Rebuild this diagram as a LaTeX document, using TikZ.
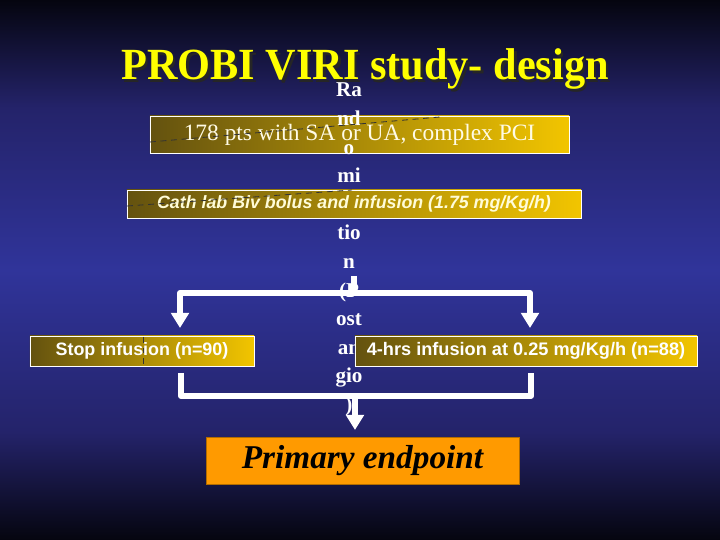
\documentclass[tikz,border=0pt]{standalone}
\usepackage{fontspec}
\setmainfont{Liberation Serif}
\setsansfont{Liberation Sans}
\newfontfamily\titlefont[FakeStretch=0.95]{Liberation Serif}
\usetikzlibrary{arrows.meta}
\definecolor{bgmid}{HTML}{30349A}
\definecolor{bgquart}{HTML}{24236A}
\definecolor{bgedge}{HTML}{05050F}
\definecolor{goldL}{HTML}{64520F}
\definecolor{goldR}{HTML}{F2C500}
\definecolor{ttlyellow}{HTML}{FFFF00}
\definecolor{cream}{HTML}{FFFBE6}
\definecolor{paleyellow}{HTML}{FFFCD8}
\definecolor{orangebox}{HTML}{FF9A00}
\pgfdeclareverticalshading{bgshade}{100bp}{color(0bp)=(bgedge); color(25bp)=(bgedge); color(35bp)=(bgquart); color(50bp)=(bgmid); color(65bp)=(bgquart); color(75bp)=(bgedge); color(100bp)=(bgedge)}
\begin{document}
\begin{tikzpicture}[x=0.03cm,y=-0.03cm,
  goldbox/.style={draw=white, line width=0.8pt, left color=goldL, right color=goldR,
    inner sep=0pt, align=center},
  titlestyle/.style={font=\titlefont\bfseries\fontsize{38}{40}\selectfont, anchor=base, inner sep=0pt},
  vtext/.style={font=\bfseries\fontsize{18}{20}\selectfont, text=white, anchor=base, inner sep=0pt},
  flow/.style={draw=white, line width=5pt, line join=round},
  flowarrow/.style={flow, -{Triangle[width=15pt,length=13pt]}},
  artdash/.style={draw=black!80, line width=0.7pt, dash pattern=on 5pt off 4pt}]
\useasboundingbox (0,0) rectangle (720,540);
\begin{scope}[y=0.03cm]
  \shade[shading=bgshade] (0,-540) rectangle (720,0);
\end{scope}

% title
\node[titlestyle, text=black!85] (titleshadow) at (367.5,82.5) {PROBI VIRI study- design};
\node[titlestyle, text=ttlyellow] (title) at (365,80) {PROBI VIRI study- design};

% first box
\node[goldbox, minimum width=12.57cm, minimum height=1.11cm,
      font=\fontsize{20}{22}\selectfont, text=cream] (pts) at (359.5,134.5)
      {178 pts with SA or UA, complex PCI};

% vertical label
\node[vtext] (v1) at (349,97) {Ra};
\node[vtext] (v2) at (349,125.6) {nd};
\node[vtext] (v3) at (349,154.2) {o};
\node[vtext] (v4) at (349,182.8) {mi};
\node[vtext] (v5) at (349,211.4) {za};
\node[vtext] (v6) at (349,240) {tio};
\node[vtext] (v7) at (349,268.6) {n};
\node[vtext] (v8) at (349,297.2) {(P};
\node[vtext] (v9) at (349,325.8) {ost};
\node[vtext] (v10) at (349,354.4) {an};
\node[vtext] (v11) at (349,383) {gio};
\node[vtext] (v12) at (349,411.6) {)};

% second box
\node[goldbox, minimum width=13.62cm, minimum height=0.84cm,
      font=\sffamily\bfseries\itshape\fontsize{15.2}{17}\selectfont, text=paleyellow] (cath) at (354,204)
      {Cath lab Biv bolus and infusion (1.75 mg/Kg/h)};

% arms
\node[goldbox, minimum width=6.72cm, minimum height=0.9cm,
      font=\sffamily\bfseries\fontsize{15.3}{17}\selectfont, text=white] (stop) at (142,351)
      {Stop infusion (n=90)};
\node[goldbox, minimum width=10.26cm, minimum height=0.9cm,
      font=\sffamily\bfseries\fontsize{15.5}{17}\selectfont, text=white] (four) at (526,351)
      {4-hrs infusion at 0.25 mg/Kg/h (n=88)};

% endpoint
\node[fill=orangebox, draw=orangebox!70!black, line width=0.4pt, minimum width=9.39cm, minimum height=1.41cm,
      inner sep=0pt, font=\bfseries\itshape\fontsize{28.4}{30}\selectfont, text=black] (end) at (362.5,460.5)
      {Primary endpoint};

% artefact dashes
\draw[artdash] (150,142) -- (440,117);
\draw[artdash] (127,206) -- (352,190);
\draw[artdash] (143,337) -- (143,365);

% connectors
\coordinate (stub) at (354,276);
\coordinate (split) at (354,293);
\coordinate (ltip) at (180,328);
\coordinate (rtip) at (530,328);
\draw[flow] (stub) -- (split);
\draw[flowarrow] (split) -| (ltip);
\draw[flowarrow] (split) -| (rtip);

\coordinate (lfoot) at (181,373);
\coordinate (rfoot) at (531,373);
\coordinate (join) at (355,396);
\coordinate (etip) at (355,430);
\draw[flow] (lfoot) |- (join) -| (rfoot);
\draw[flowarrow] (join) -- (etip);
\end{tikzpicture}
\end{document}
